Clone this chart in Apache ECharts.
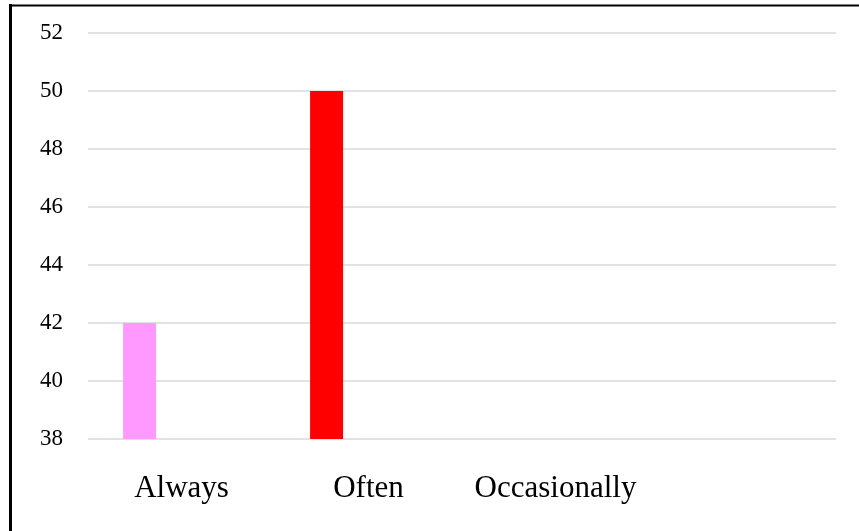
<!DOCTYPE html>
<html>
<head>
<meta charset="utf-8">
<script src="https://cdn.jsdelivr.net/npm/echarts@6/dist/echarts.min.js"></script>
<style>
  html, body { margin: 0; padding: 0; background: #ffffff; }
  #chart { width: 859px; height: 531px; }
</style>
</head>
<body>
<div id="chart"></div>
<script>
// Response frequency categories (the fourth slot carries no label)
const categories = ['Always', 'Often', 'Occasionally', ''];
// Response values per category
const responseValues = [42, 50, '-', '-'];
// Fill colour for each bar
const barColors = ['#FF99FF', '#FF0000', '#FF0000', '#FF0000'];
// Value axis range
const yMin = 38;
const yMax = 52;
const yStep = 2;

const FONT = '"Liberation Serif", "Times New Roman", serif';

const chart = echarts.init(document.getElementById('chart'), null, { renderer: 'canvas' });

chart.setOption({
  animation: false,
  backgroundColor: '#ffffff',
  graphic: [
    // frame around the chart area
    { type: 'line', shape: { x1: 10.5, y1: 4, x2: 10.5, y2: 540 }, style: { stroke: '#000', lineWidth: 3 } },
    { type: 'line', shape: { x1: 9, y1: 5.5, x2: 870, y2: 5.5 }, style: { stroke: '#000', lineWidth: 2 } }
  ],
  grid: { left: 88, right: 23, top: 33, bottom: 92, containLabel: false },
  xAxis: {
    type: 'category',
    data: categories,
    axisLine: { show: false },
    axisTick: { show: false },
    axisLabel: {
      interval: 0,
      margin: 34,
      color: '#000',
      fontFamily: FONT,
      fontSize: 31
    },
    splitLine: { show: false }
  },
  yAxis: {
    type: 'value',
    min: yMin,
    max: yMax,
    interval: yStep,
    axisLine: { show: false },
    axisTick: { show: false },
    axisLabel: {
      margin: 25,
      color: '#000',
      fontFamily: FONT,
      fontSize: 23
    },
    splitLine: { lineStyle: { color: '#d9d9d9', width: 1.5 } }
  },
  series: [
    {
      name: 'Responses',
      type: 'bar',
      data: responseValues.map((v, i) => ({ value: v, itemStyle: { color: barColors[i] } })),
      barWidth: 33,
      barGap: '154%'
    },
    {
      // second column slot of each category (no values)
      name: 'Second slot',
      type: 'bar',
      data: ['-', '-', '-', '-'],
      barWidth: 33
    }
  ]
});
</script>
</body>
</html>
